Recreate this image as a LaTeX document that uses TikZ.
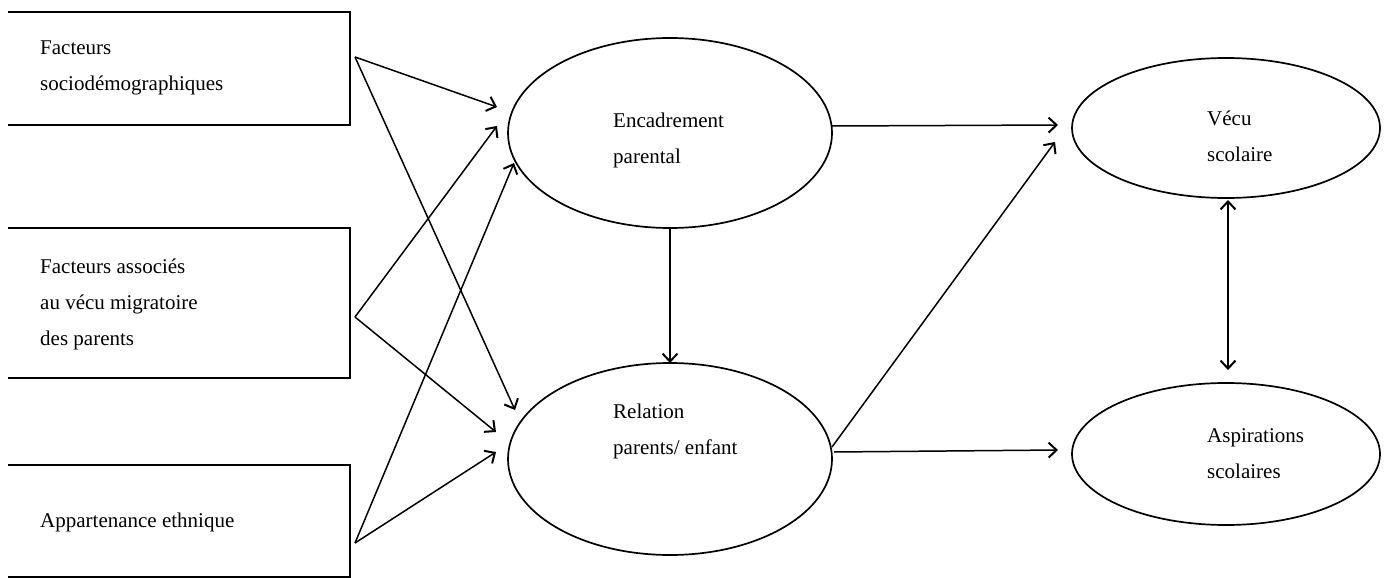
\documentclass[tikz,border=0pt]{standalone}
\usepackage{fontspec}
\setmainfont{Liberation Serif}
\usetikzlibrary{shapes.geometric,arrows.meta}
\tikzset{
  line/.style={line width=1.7pt, black},
  arr/.style={line width=1.5pt, -{Straight Barb[length=8pt,width=15pt,line width=2pt]}},
  darr/.style={line width=1.5pt, {Straight Barb[length=8pt,width=15pt,line width=2pt]}-{Straight Barb[length=8pt,width=15pt,line width=2pt]}},
  oval/.style={ellipse, draw, line width=1.7pt, inner sep=0pt},
  lbl/.style={anchor=north west, align=left, inner sep=0pt, font=\fontsize{21}{36}\selectfont},
}
\begin{document}
\begin{tikzpicture}[x=1pt,y=-1pt]
\useasboundingbox (0,0) rectangle (1390,578);
% left boxes (open on the left)
\draw[line] (8,12) -| (350,125) -- (8,125);
\draw[line] (8,228) -| (350,378) -- (8,378);
\draw[line] (8,465) -| (350,578);
\draw[line] (8,577) -- (350,577);
\node[lbl] (t1) at (40,41) {Facteurs\\sociodémographiques};
\node[lbl] (t2) at (40,259) {Facteurs associés\\au vécu migratoire\\des parents};
\node[lbl] (t3) at (40,513) {Appartenance ethnique};
\coordinate (b1) at (355,57);
\coordinate (b2) at (355,317);
\coordinate (b3) at (355,543);
% ellipses
\node[oval, minimum width=324pt, minimum height=190pt] (enc) at (670,133) {};
\node[oval, minimum width=324pt, minimum height=192pt] (rel) at (670,459) {};
\node[oval, minimum width=308pt, minimum height=140pt] (vec) at (1226,128) {};
\node[oval, minimum width=308pt, minimum height=142pt] (asp) at (1226,454) {};
\node[lbl] (te) at (613,113) {Encadrement\\parental};
\node[lbl] (tr) at (613,404) {Relation\\parents/ enfant};
\node[lbl] (tv) at (1207,111) {Vécu\\scolaire};
\node[lbl] (ta) at (1207,428) {Aspirations\\scolaires};
% arrow tips
\coordinate (e1) at (497,107);
\coordinate (e2) at (497,126);
\coordinate (e3) at (514,163);
\coordinate (r1) at (515,410);
\coordinate (r2) at (496,432);
\coordinate (r3) at (496,452);
\coordinate (es) at (832,126);
\coordinate (v1) at (1058,125);
\coordinate (v2) at (1055,142);
\coordinate (a1) at (1058,450);
\coordinate (encb) at (670,363);
\coordinate (d1) at (1228,200);
\coordinate (d2) at (1228,370);
\coordinate (rs) at (832,447);
\coordinate (rh) at (834,452);
% connectors
\draw[arr] (b1) -- (e1);
\draw[arr] (b1) -- (r1);
\draw[arr] (b2) -- (e2);
\draw[arr] (b2) -- (r2);
\draw[arr] (b3) -- (e3);
\draw[arr] (b3) -- (r3);
\draw[arr] (enc.south) -- (encb);
\draw[arr] (es) -- (v1);
\draw[arr] (rs) -- (v2);
\draw[arr] (rh) -- (a1);
\draw[darr] (d1) -- (d2);
\end{tikzpicture}
\end{document}
